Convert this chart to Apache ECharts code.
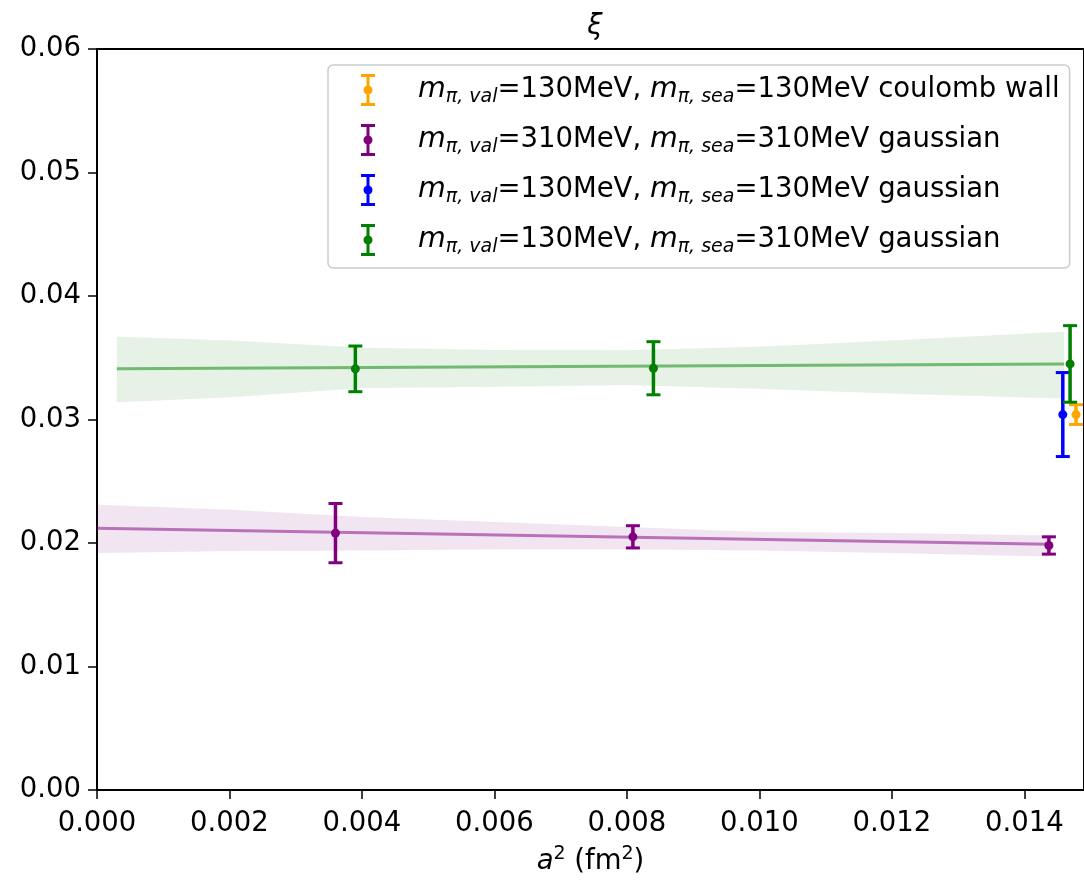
<!DOCTYPE html>
<html>
<head>
<meta charset="utf-8">
<script src="https://cdn.jsdelivr.net/npm/echarts@6/dist/echarts.min.js"></script>
<style>html,body{margin:0;padding:0;background:#fff;}#c{width:1084px;height:884px;}</style>
</head>
<body>
<div id="c"></div>
<script>
// ---- data ----
const xTicks = [0, 0.002, 0.004, 0.006, 0.008, 0.010, 0.012, 0.014];
const yTicks = [0, 0.01, 0.02, 0.03, 0.04, 0.05, 0.06];

const orangeX = [0.01478];
const orangeY = [0.0304];
const orangeErr = [0.0008];

const purpleX = [0.00360, 0.00809, 0.01437];
const purpleY = [0.0208, 0.0205, 0.0198];
const purpleErr = [0.0024, 0.0009, 0.0007];

const blueX = [0.01458];
const blueY = [0.0304];
const blueErr = [0.0034];

const greenX = [0.00390, 0.00840, 0.01469];
const greenY = [0.0341, 0.03415, 0.0345];
const greenErr = [0.00185, 0.00215, 0.0031];

// fit lines and error bands
const purpleFitX = [0, 0.01437];
const purpleFitY = [0.0212, 0.0199];
const purpleBandX = [0, 0.002, 0.004, 0.006, 0.008, 0.010, 0.012, 0.01437];
const purpleBandHi = [0.0231, 0.0227, 0.0221, 0.0217, 0.0213, 0.0209, 0.0208, 0.0206];
const purpleBandLo = [0.0192, 0.01935, 0.0194, 0.0195, 0.0195, 0.0194, 0.0192, 0.0189];

const greenFitX = [0.0003, 0.0146];
const greenFitY = [0.0341, 0.0345];
const greenBandX = [0.0003, 0.002, 0.004, 0.006, 0.008, 0.010, 0.012, 0.0146];
const greenBandHi = [0.0367, 0.0364, 0.0358, 0.03563, 0.0356, 0.0359, 0.0364, 0.0371];
const greenBandLo = [0.0314, 0.0318, 0.03255, 0.03266, 0.0328, 0.0325, 0.0321, 0.0317];

const legendNames = ['orange', 'purple', 'blue', 'green'];
const legendLabels = {
  orange: ['130', '130', 'coulomb wall'],
  purple: ['310', '310', 'gaussian'],
  blue: ['130', '130', 'gaussian'],
  green: ['130', '310', 'gaussian']
};

const COL = { orange: '#FFA500', purple: '#800080', blue: '#0000FF', green: '#008000' };
const FONT = 'DejaVu Sans';
const FS = 27.5;

function zip3(a, b, c) { return a.map((v, i) => [v, b[i], c[i]]); }

function errSeries(name, xs, ys, es) {
  return {
    type: 'custom', name: name, z: 5,
    itemStyle: { color: COL[name] },
    data: zip3(xs, ys, es),
    renderItem: function (params, api) {
      const x = api.value(0), y = api.value(1), e = api.value(2);
      const c = api.coord([x, y]);
      const top = api.coord([x, y + e]);
      const bot = api.coord([x, y - e]);
      const col = COL[name];
      const cap = 7;
      return {
        type: 'group', children: [
          { type: 'line', shape: { x1: c[0], y1: top[1], x2: c[0], y2: bot[1] }, style: { stroke: col, lineWidth: 3.5 } },
          { type: 'line', shape: { x1: c[0] - cap, y1: top[1], x2: c[0] + cap, y2: top[1] }, style: { stroke: col, lineWidth: 3 } },
          { type: 'line', shape: { x1: c[0] - cap, y1: bot[1], x2: c[0] + cap, y2: bot[1] }, style: { stroke: col, lineWidth: 3 } },
          { type: 'circle', shape: { cx: c[0], cy: c[1], r: 4.5 }, style: { fill: col } }
        ]
      };
    }
  };
}

function bandSeries(id, xs, hi, lo, color) {
  return {
    type: 'custom', name: id, z: 1, silent: true,
    data: xs.map((x, i) => [x, hi[i], lo[i]]),
    renderItem: function (params, api) {
      if (params.dataIndex !== 0) return { type: 'group', children: [] };
      const pts = [];
      for (let i = 0; i < xs.length; i++) pts.push(api.coord([xs[i], hi[i]]));
      for (let i = xs.length - 1; i >= 0; i--) pts.push(api.coord([xs[i], lo[i]]));
      return { type: 'polygon', shape: { points: pts }, style: { fill: color, opacity: 0.1, stroke: color, lineWidth: 1, strokeOpacity: 0.12 } };
    }
  };
}

function fitSeries(id, xs, ys, color) {
  return {
    type: 'line', name: id, z: 2, silent: true, symbol: 'none',
    data: xs.map((x, i) => [x, ys[i]]),
    lineStyle: { color: color, width: 3, opacity: 0.5 }
  };
}

const chart = echarts.init(document.getElementById('c'), null, { renderer: 'canvas' });

const errIcon = 'path://M0,0h14v3h-14z M5.5,0h3v32h-3z M0,29h14v3h-14z M2.5,16a4.5,4.5 0 1,1 9,0a4.5,4.5 0 1,1 -9,0z';

const option = {
  animation: false,
  backgroundColor: '#fff',
  title: {
    text: 'ξ', left: 590, top: 8, textAlign: 'center',
    textStyle: { fontFamily: FONT, fontSize: FS, fontStyle: 'italic', fontWeight: 'normal', color: '#000' }
  },
  grid: { left: 97, right: 0, top: 49, bottom: 94, outerBoundsMode: 'none', containLabel: false, show: true, borderColor: '#000', borderWidth: 2, backgroundColor: 'transparent' },
  xAxis: {
    type: 'value', min: 0, max: 0.0149, interval: 0.002,
    name: '{i|a}{sup|2}{t| (fm}{sup|2}{t|)}', nameLocation: 'middle', nameGap: 55, nameMoveOverlap: false,
    nameTextStyle: {
      rich: {
        i: { fontFamily: FONT, fontSize: FS, fontStyle: 'italic', color: '#000', lineHeight: 34 },
        t: { fontFamily: FONT, fontSize: FS, color: '#000', lineHeight: 34 },
        sup: { fontFamily: FONT, fontSize: 19, color: '#000', verticalAlign: 'top', lineHeight: 34 }
      }
    },
    splitLine: { show: false },
    axisLine: { show: true, onZero: false, lineStyle: { color: '#000', width: 2 } },
    axisTick: { show: true, inside: false, length: 9, lineStyle: { color: '#000', width: 1.5 } },
    axisLabel: {
      showMaxLabel: false, margin: 20, fontFamily: FONT, fontSize: FS, color: '#000',
      formatter: function (v) {
        for (const t of xTicks) if (Math.abs(t - v) < 1e-9) return t.toFixed(3);
        return '';
      }
    }
  },
  yAxis: {
    type: 'value', min: 0, max: 0.06, interval: 0.01,
    splitLine: { show: false },
    axisLine: { show: true, onZero: false, lineStyle: { color: '#000', width: 2 } },
    axisTick: { show: true, inside: false, length: 9, lineStyle: { color: '#000', width: 1.5 } },
    axisLabel: {
      margin: 16, fontFamily: FONT, fontSize: FS, color: '#000',
      formatter: function (v) {
        for (const t of yTicks) if (Math.abs(t - v) < 1e-9) return t.toFixed(2);
        return '';
      }
    }
  },
  legend: {
    data: legendNames.map(n => ({ name: n, icon: errIcon })),
    orient: 'vertical', left: 328, top: 65,
    padding: [9, 10, 11, 33],
    itemWidth: 14, itemHeight: 32, itemGap: 17,
    backgroundColor: 'rgba(255,255,255,0.8)', borderColor: '#cccccc', borderWidth: 1.5, borderRadius: 5,
    selectedMode: false,
    formatter: function (n) {
      const l = legendLabels[n];
      return '{g| }{m|m}{s|π, val}{t|=' + l[0] + 'MeV, }{m|m}{s|π, sea}{t|=' + l[1] + 'MeV ' + l[2] + '}';
    },
    textStyle: {
      fontFamily: FONT, fontSize: FS, color: '#000',
      rich: {
        g: { width: 38, fontSize: FS, lineHeight: 34 },
        m: { fontFamily: FONT, fontSize: FS + 1, fontStyle: 'italic', color: '#000', lineHeight: 34 },
        s: { fontFamily: FONT, fontSize: 19, fontStyle: 'italic', color: '#000', lineHeight: 34, verticalAlign: 'bottom' },
        t: { fontFamily: FONT, fontSize: FS, color: '#000', lineHeight: 34 }
      }
    }
  },
  series: [
    bandSeries('purpleBand', purpleBandX, purpleBandHi, purpleBandLo, COL.purple),
    bandSeries('greenBand', greenBandX, greenBandHi, greenBandLo, COL.green),
    fitSeries('purpleFit', purpleFitX, purpleFitY, COL.purple),
    fitSeries('greenFit', greenFitX, greenFitY, COL.green),
    errSeries('orange', orangeX, orangeY, orangeErr),
    errSeries('purple', purpleX, purpleY, purpleErr),
    errSeries('blue', blueX, blueY, blueErr),
    errSeries('green', greenX, greenY, greenErr)
  ]
};
chart.setOption(option);
</script>
</body>
</html>
